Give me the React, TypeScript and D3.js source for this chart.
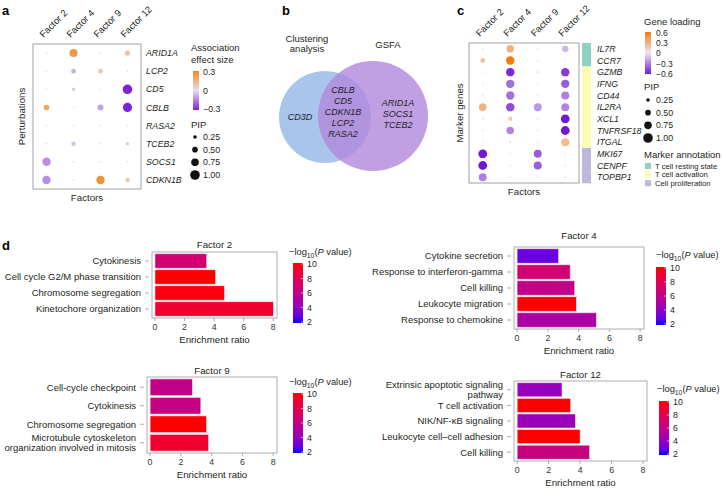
import React from "react";
import * as d3 from "d3";

const FONT = "'Liberation Sans', Arial, sans-serif";
const INK = "#231f20";

// ---- panel a: perturbation association ----
const aFactors = ["Factor 2", "Factor 4", "Factor 9", "Factor 12"];
const aGenes = ["ARID1A", "LCP2", "CD5", "CBLB", "RASA2", "TCEB2", "SOCS1", "CDKN1B"];
const aEffect = [
  [0, 0.25, 0, 0.1],
  [0, -0.08, 0.08, 0],
  [0, -0.03, 0, -0.3],
  [0.2, 0, -0.1, -0.3],
  [0, 0, 0, 0],
  [0, -0.05, 0, -0.04],
  [-0.13, 0, 0, 0],
  [-0.13, 0, 0.26, 0.08],
];
const aPip = [
  [0.05, 0.8, 0.04, 0.45],
  [0.04, 0.4, 0.4, 0.04],
  [0.03, 0.25, 0.03, 1.0],
  [0.5, 0.03, 0.55, 0.95],
  [0.03, 0.03, 0.03, 0.03],
  [0.03, 0.35, 0.03, 0.2],
  [0.85, 0.05, 0.03, 0.03],
  [0.85, 0.05, 0.85, 0.35],
];
const aEffectTicks = [0.3, 0, -0.3];
const pipTicks = [0.25, 0.5, 0.75, 1.0];

// ---- panel b: Venn ----
const vennLeftOnly = ["CD3D"];
const vennShared = ["CBLB", "CD5", "CDKN1B", "LCP2", "RASA2"];
const vennRightOnly = ["ARID1A", "SOCS1", "TCEB2"];

// ---- panel c: marker genes ----
const cGenes = ["IL7R", "CCR7", "GZMB", "IFNG", "CD44", "IL2RA", "XCL1", "TNFRSF18", "ITGAL", "MKI67", "CENPF", "TOPBP1"];
const cLoading = [
  [0, 0.3, 0, -0.15],
  [0.2, 0.6, 0, 0],
  [0, -0.55, 0, -0.5],
  [0, -0.35, 0, -0.4],
  [0, -0.35, 0, -0.3],
  [0.3, -0.45, -0.22, -0.28],
  [0, 0.15, 0, -0.6],
  [0, -0.28, 0, -0.6],
  [0, 0.1, 0, 0.25],
  [-0.6, 0, -0.4, 0],
  [-0.6, 0, -0.4, 0],
  [-0.3, 0, 0, 0],
];
const cPip = [
  [0.03, 0.75, 0.02, 0.6],
  [0.4, 0.85, 0.1, 0.02],
  [0.02, 0.85, 0.1, 0.85],
  [0.02, 0.85, 0.05, 0.85],
  [0.05, 0.85, 0.02, 0.8],
  [0.75, 0.85, 0.8, 0.8],
  [0.05, 0.35, 0.05, 0.9],
  [0.05, 0.75, 0.05, 0.9],
  [0.02, 0.05, 0.02, 0.8],
  [0.9, 0.03, 0.8, 0.03],
  [0.9, 0.03, 0.8, 0.03],
  [0.8, 0.03, 0.03, 0.03],
];
const cAnnot = ["rest", "rest", "act", "act", "act", "act", "act", "act", "act", "prol", "prol", "prol"];
const annotLabels = ["T cell resting state", "T cell activation", "Cell proliferation"];
const annotColors = ["#8fd2c4", "#fbfbb4", "#bcb8db"];
const cLoadingTicks = [0.6, 0.3, 0, -0.3, -0.6];

// ---- panel d: enrichment ----
const f2Terms = ["Cytokinesis", "Cell cycle G2/M phase transition", "Chromosome segregation", "Kinetochore organization"];
const f2Ratio = [3.5, 4.1, 4.7, 8.0];
const f2LogP = [6.8, 10, 9.8, 9.0];

const f4Terms = ["Cytokine secretion", "Response to interferon-gamma", "Cell killing", "Leukocyte migration", "Response to chemokine"];
const f4Ratio = [2.7, 3.45, 3.75, 3.85, 5.15];
const f4LogP = [3.0, 6.8, 6.0, 10, 5.0];

const f9Terms = ["Cell-cycle checkpoint", "Cytokinesis", "Chromosome segregation", "Microtubule cytoskeleton\norganization involved in mitosis"];
const f9Ratio = [2.75, 3.3, 3.67, 3.8];
const f9LogP = [6.0, 6.2, 10, 9.0];

const f12Terms = ["Extrinsic apoptotic signaling\npathway", "T cell activation", "NIK/NF-\u03baB signaling", "Leukocyte cell\u2013cell adhesion", "Cell killing"];
const f12Ratio = [2.85, 3.4, 3.7, 4.0, 4.6];
const f12LogP = [4.2, 10, 4.3, 10, 6.3];

const ratioTicks = [0, 2, 4, 6, 8];
const logPTicks = [10, 8, 6, 4, 2];

const pColor = d3.scaleLinear<string>().domain([2, 10]).range(["blue", "red"]).interpolate(d3.interpolateLab).clamp(true);
const aColor = d3.scaleLinear<string>().domain([-0.3, 0, 0.3]).range(["#7a22dc", "#e4e0e9", "#f4861f"]).clamp(true);
const cColor = d3.scaleLinear<string>().domain([-0.6, 0, 0.6]).range(["#6f18d6", "#ebe6ef", "#f47d0e"]).clamp(true);
const pipR = d3.scaleLinear().domain([0, 1]).range([0.8, 4.8]);

function DotPlot({ genes, factors, vals, pips, color, box, labelDx }: any) {
  const x = d3.scalePoint().domain(factors).range([box.l, box.r]).padding(0.5);
  const y = d3.scaleBand().domain(genes).range([box.t, box.b]);
  return (
    <g>
      <rect x={box.l} y={box.t} width={box.r - box.l} height={box.b - box.t} fill="none" stroke="#8a8a8a" strokeWidth={0.8} />
      {factors.map((f: string) => (
        <text key={f} transform={`translate(${x(f)! - 3},${box.t - 6}) rotate(-45)`} fontSize={9.4} fill={INK}>{f}</text>
      ))}
      {genes.map((g: string, i: number) => (
        <g key={g}>
          <text x={labelDx} y={y(g)! + y.bandwidth() / 2} dy="0.35em" fontSize={8.8} fontStyle="italic" fill={INK}>{g}</text>
          {factors.map((f: string, j: number) => (
            <circle key={f} cx={x(f)} cy={y(g)! + y.bandwidth() / 2} r={pipR(pips[i][j])} fill={color(vals[i][j])} />
          ))}
        </g>
      ))}
    </g>
  );
}

function PipLegend({ x, y }: { x: number; y: number }) {
  const yy = d3.scalePoint<number>().domain(pipTicks).range([y, y + 38]);
  return (
    <g>
      {pipTicks.map((p) => (
        <g key={p}>
          <circle cx={x} cy={yy(p)} r={pipR(p)} fill="#111" />
          <text x={x + 8} y={yy(p)} dy="0.35em" fontSize={8.8} fill={INK}>{p.toFixed(2)}</text>
        </g>
      ))}
    </g>
  );
}

function BarPanel({ id, title, terms, ratios, logp, box, leg, titleY }: any) {
  const x = d3.scaleLinear().domain([-0.2, 8.25]).range([box.l, box.r]);
  const y = d3.scaleBand().domain(terms).range([box.t + 1, box.b - 1]).paddingInner(0.1).paddingOuter(0.05);
  const ly = d3.scaleLinear().domain([2, 10]).range([leg.b - 1, leg.t + 1]);
  const stops = d3.range(0, 1.01, 0.1);
  return (
    <g>
      <defs>
        <linearGradient id={id} x1="0" y1="1" x2="0" y2="0">
          {stops.map((s) => (
            <stop key={s} offset={s} stopColor={pColor(2 + 8 * s)} />
          ))}
        </linearGradient>
      </defs>
      <text x={(box.l + box.r) / 2} y={titleY} textAnchor="middle" fontSize={9.7} fill={INK}>{title}</text>
      <rect x={box.l} y={box.t} width={box.r - box.l} height={box.b - box.t} fill="none" stroke="#9a9a9a" strokeWidth={0.8} />
      {terms.map((t: string, i: number) => {
        const lines = t.split("\n");
        const cy = y(t)! + y.bandwidth() / 2;
        return (
          <g key={t}>
            <rect x={x(0)} y={y(t)} width={x(ratios[i]) - x(0)} height={y.bandwidth()} fill={pColor(logp[i])} stroke="#fbe3ec" strokeWidth={0.6} />
            <line x1={box.l - 7} x2={box.l - 3} y1={cy} y2={cy} stroke="#888" strokeWidth={0.7} />
            <text x={box.l - 11} y={cy - (lines.length - 1) * 5.3} textAnchor="end" fontSize={9.5} fill={INK}>
              {lines.map((ln, k) => (
                <tspan key={k} x={box.l - 11} dy={k === 0 ? "0.35em" : 10.6}>{ln}</tspan>
              ))}
            </text>
          </g>
        );
      })}
      {ratioTicks.map((v) => (
        <g key={v}>
          <line x1={x(v)} x2={x(v)} y1={box.b} y2={box.b + 3} stroke="#888" strokeWidth={0.7} />
          <text x={x(v)} y={box.b + 12} textAnchor="middle" fontSize={8.8} fill="#333">{v}</text>
        </g>
      ))}
      <text x={(box.l + box.r) / 2} y={box.b + 25} textAnchor="middle" fontSize={9.7} fill={INK}>Enrichment ratio</text>
      <text x={leg.tx} y={leg.ty} fontSize={9.3} fill={INK}>
        {"\u2212log"}
        <tspan fontSize={6.8} dy={2.5}>10</tspan>
        <tspan dy={-2.5}>(</tspan>
        <tspan fontStyle="italic">P</tspan>
        <tspan> value)</tspan>
      </text>
      <rect x={leg.l} y={leg.t} width={leg.w} height={leg.b - leg.t} fill={`url(#${id})`} />
      {logPTicks.map((v) => (
        <g key={v}>
          <line x1={leg.l + leg.w - 2} x2={leg.l + leg.w} y1={ly(v)} y2={ly(v)} stroke="#fff" strokeWidth={0.6} />
          <text x={leg.l + leg.w + 4} y={ly(v)} dy="0.35em" fontSize={8.8} fill={INK}>{v}</text>
        </g>
      ))}
    </g>
  );
}

export default function App() {
  const aBox = { l: 33, r: 141, t: 44, b: 189 };
  const cBox = { l: 469, r: 579, t: 43, b: 183 };
  const cy = d3.scaleBand().domain(cGenes).range([cBox.t, cBox.b]);
  const aLegY = d3.scaleLinear().domain([-0.3, 0.3]).range([109, 72]);
  const cLegY = d3.scaleLinear().domain([-0.6, 0.6]).range([74, 33]);
  const gradStops = d3.range(0, 1.01, 0.1);

  return (
    <svg width={722} height={488} style={{ position: "absolute", left: 0, top: 0, background: "#fff" }} fontFamily={FONT}>
      <defs>
        <linearGradient id="gA" x1="0" y1="1" x2="0" y2="0">
          {gradStops.map((s) => <stop key={s} offset={s} stopColor={aColor(-0.3 + 0.6 * s)} />)}
        </linearGradient>
        <linearGradient id="gC" x1="0" y1="1" x2="0" y2="0">
          {gradStops.map((s) => <stop key={s} offset={s} stopColor={cColor(-0.6 + 1.2 * s)} />)}
        </linearGradient>
      </defs>

      {/* panel letters */}
      <text x={2} y={15} fontSize={13} fontWeight="bold" fill="#000">a</text>
      <text x={282} y={15} fontSize={13} fontWeight="bold" fill="#000">b</text>
      <text x={457} y={15} fontSize={13} fontWeight="bold" fill="#000">c</text>
      <text x={2} y={250} fontSize={13} fontWeight="bold" fill="#000">d</text>

      {/* a */}
      <DotPlot genes={aGenes} factors={aFactors} vals={aEffect} pips={aPip} color={aColor} box={aBox} labelDx={146} />
      <text x={(aBox.l + aBox.r) / 2} y={201} textAnchor="middle" fontSize={9.7} fill={INK}>Factors</text>
      <text transform={`translate(25,${(aBox.t + aBox.b) / 2}) rotate(-90)`} textAnchor="middle" fontSize={9.7} fill={INK}>Perturbations</text>
      <text x={191} y={51} fontSize={9.5} fill={INK}>Association</text>
      <text x={191} y={63} fontSize={9.5} fill={INK}>effect size</text>
      <rect x={193} y={71} width={6} height={39} fill="url(#gA)" />
      {aEffectTicks.map((v) => (
        <text key={v} x={203} y={aLegY(v)} dy="0.35em" fontSize={8.8} fill={INK}>{v === 0 ? "0" : v > 0 ? "0.3" : "\u22120.3"}</text>
      ))}
      <text x={191} y={128} fontSize={9.5} fill={INK}>PIP</text>
      <PipLegend x={195} y={137} />

      {/* b */}
      <circle cx={325} cy={117} r={46} fill="#a9c5eb" />
      <circle cx={373} cy={116} r={55} fill="#b187dc" fillOpacity={0.8} />
      <text x={307} y={42} textAnchor="middle" fontSize={9.5} fill={INK}>Clustering</text>
      <text x={307} y={52} textAnchor="middle" fontSize={9.5} fill={INK}>analysis</text>
      <text x={388} y={48} textAnchor="middle" fontSize={9.5} fill={INK}>GSFA</text>
      {vennLeftOnly.map((g) => (
        <text key={g} x={300} y={117} dy="0.35em" textAnchor="middle" fontSize={9} fontStyle="italic" fill={INK}>{g}</text>
      ))}
      {vennShared.map((g, i) => (
        <text key={g} x={343} y={90 + i * 11} dy="0.35em" textAnchor="middle" fontSize={9} fontStyle="italic" fill={INK}>{g}</text>
      ))}
      {vennRightOnly.map((g, i) => (
        <text key={g} x={398} y={103 + i * 11} dy="0.35em" textAnchor="middle" fontSize={9} fontStyle="italic" fill={INK}>{g}</text>
      ))}

      {/* c */}
      <DotPlot genes={cGenes} factors={aFactors} vals={cLoading} pips={cPip} color={cColor} box={cBox} labelDx={597} />
      {cGenes.map((g, i) => (
        <rect key={g} x={582} y={cy(g)} width={9} height={cy.bandwidth() + 0.3}
          fill={annotColors[["rest", "act", "prol"].indexOf(cAnnot[i])]} />
      ))}
      <text x={(cBox.l + cBox.r) / 2} y={195} textAnchor="middle" fontSize={9.7} fill={INK}>Factors</text>
      <text transform={`translate(463,${(cBox.t + cBox.b) / 2}) rotate(-90)`} textAnchor="middle" fontSize={9.7} fill={INK}>Marker genes</text>
      <text x={644} y={25} fontSize={9.5} fill={INK}>Gene loading</text>
      <rect x={645} y={32} width={6} height={42} fill="url(#gC)" />
      {cLoadingTicks.map((v) => (
        <text key={v} x={656} y={cLegY(v)} dy="0.35em" fontSize={8.5} fill={INK}>{v === 0 ? "0" : v > 0 ? String(v) : "\u2212" + String(-v)}</text>
      ))}
      <text x={644} y={90} fontSize={9.5} fill={INK}>PIP</text>
      <PipLegend x={648} y={100} />
      <text x={644} y={158} fontSize={9.5} fill={INK}>Marker annotation</text>
      {annotLabels.map((t, i) => (
        <g key={t}>
          <rect x={645} y={163 + i * 8.6} width={6} height={6} fill={annotColors[i]} />
          <text x={655} y={166 + i * 8.6} dy="0.35em" fontSize={7.7} fill={INK}>{t}</text>
        </g>
      ))}

      {/* d */}
      <BarPanel id="p2" title="Factor 2" terms={f2Terms} ratios={f2Ratio} logp={f2LogP} titleY={248}
        box={{ l: 152, r: 277, t: 252, b: 318 }} leg={{ tx: 289, ty: 255, l: 293, w: 10, t: 263, b: 323 }} />
      <BarPanel id="p4" title="Factor 4" terms={f4Terms} ratios={f4Ratio} logp={f4LogP} titleY={239}
        box={{ l: 514, r: 644, t: 247, b: 329 }} leg={{ tx: 656, ty: 258, l: 656, w: 10, t: 267, b: 325 }} />
      <BarPanel id="p9" title="Factor 9" terms={f9Terms} ratios={f9Ratio} logp={f9LogP} titleY={374}
        box={{ l: 147, r: 277, t: 377, b: 453 }} leg={{ tx: 289, ty: 385, l: 293, w: 10, t: 393, b: 453 }} />
      <BarPanel id="p12" title="Factor 12" terms={f12Terms} ratios={f12Ratio} logp={f12LogP} titleY={378}
        box={{ l: 514, r: 647, t: 381, b: 461 }} leg={{ tx: 657, ty: 392, l: 659, w: 10, t: 401, b: 455 }} />
    </svg>
  );
}
